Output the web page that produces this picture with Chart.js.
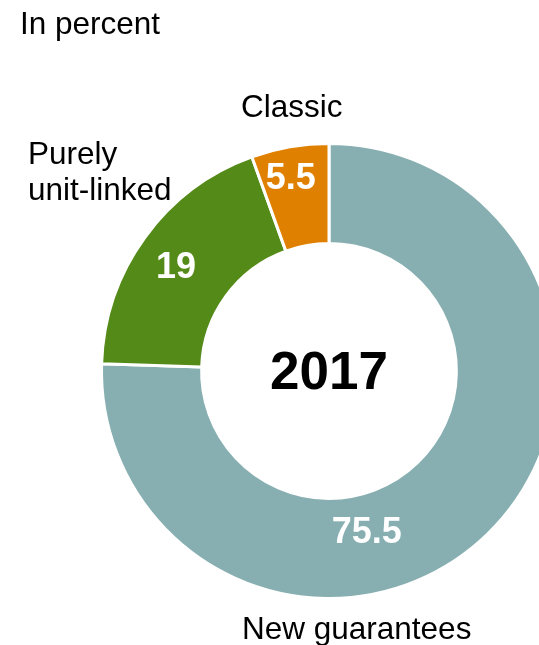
<!DOCTYPE html>
<html>
<head>
<meta charset="utf-8">
<script src="https://cdn.jsdelivr.net/npm/chart.js@4/dist/chart.umd.min.js"></script>
<style>
  html, body { margin: 0; padding: 0; background: #fff; overflow: hidden; }
  #wrap { position: relative; width: 539px; height: 645px; overflow: hidden; }
  canvas { position: absolute; left: 0; top: 0; }
</style>
</head>
<body>
<div id="wrap"><canvas id="shares" width="658" height="645"></canvas></div>
<script>
  // Shares of new business, in percent
  var categories = ['New guarantees', 'Purely unit-linked', 'Classic'];
  var shares = [75.5, 19, 5.5];
  var valueLabels = ['75.5', '19', '5.5'];
  var centreLabel = '2017';
  var colors = ['#87AFB1', '#548A18', '#E08000'];

  // where each value sits inside its slice: fraction along the arc, fraction across the ring
  var valueSpots = [[0.614, 0.39], [0.47, 0.57], [0.43, 0.68]];

  var FONT = '"Liberation Sans", Arial, sans-serif';

  var textPlugin = {
    id: 'ringText',
    afterDatasetsDraw: function(chart) {
      var c = chart.ctx;
      var arcs = chart.getDatasetMeta(0).data;
      c.save();

      // values in the slices
      c.fillStyle = '#fff';
      c.font = 'bold 36px ' + FONT;
      c.textAlign = 'center';
      c.textBaseline = 'middle';
      arcs.forEach(function(arc, i) {
        var p = arc.getProps(['x', 'y', 'startAngle', 'endAngle', 'innerRadius', 'outerRadius']);
        var a = p.startAngle + (p.endAngle - p.startAngle) * valueSpots[i][0];
        var r = p.innerRadius + (p.outerRadius - p.innerRadius) * valueSpots[i][1];
        c.fillText(valueLabels[i], p.x + Math.cos(a) * r, p.y + Math.sin(a) * r);
      });

      // year in the hole
      var ctr = arcs[0];
      c.fillStyle = '#000';
      c.font = 'bold 53px ' + FONT;
      c.fillText(centreLabel, ctr.x, ctr.y + 3);

      // category names around the ring
      c.font = '31.5px ' + FONT;
      c.textAlign = 'left';
      c.textBaseline = 'alphabetic';
      c.fillText(categories[0], 242, 639);
      c.fillText('Purely', 28, 164);
      c.fillText('unit-linked', 28, 200);
      c.fillText(categories[2], 241, 117);

      c.fillText('In percent', 20, 34);
      c.restore();
    }
  };

  var ctx = document.getElementById('shares').getContext('2d');
  var chart = new Chart(ctx, {
    type: 'doughnut',
    data: {
      labels: categories,
      datasets: [{
        data: shares,
        backgroundColor: colors,
        borderColor: '#fff',
        borderWidth: 3
      }]
    },
    options: {
      responsive: false,
      animation: false,
      cutout: '56%',
      layout: { padding: { top: 142, bottom: 45, left: 100, right: 100 } },
      plugins: {
        legend: { display: false },
        tooltip: { enabled: false }
      }
    },
    plugins: [textPlugin]
  });
</script>
</body>
</html>
